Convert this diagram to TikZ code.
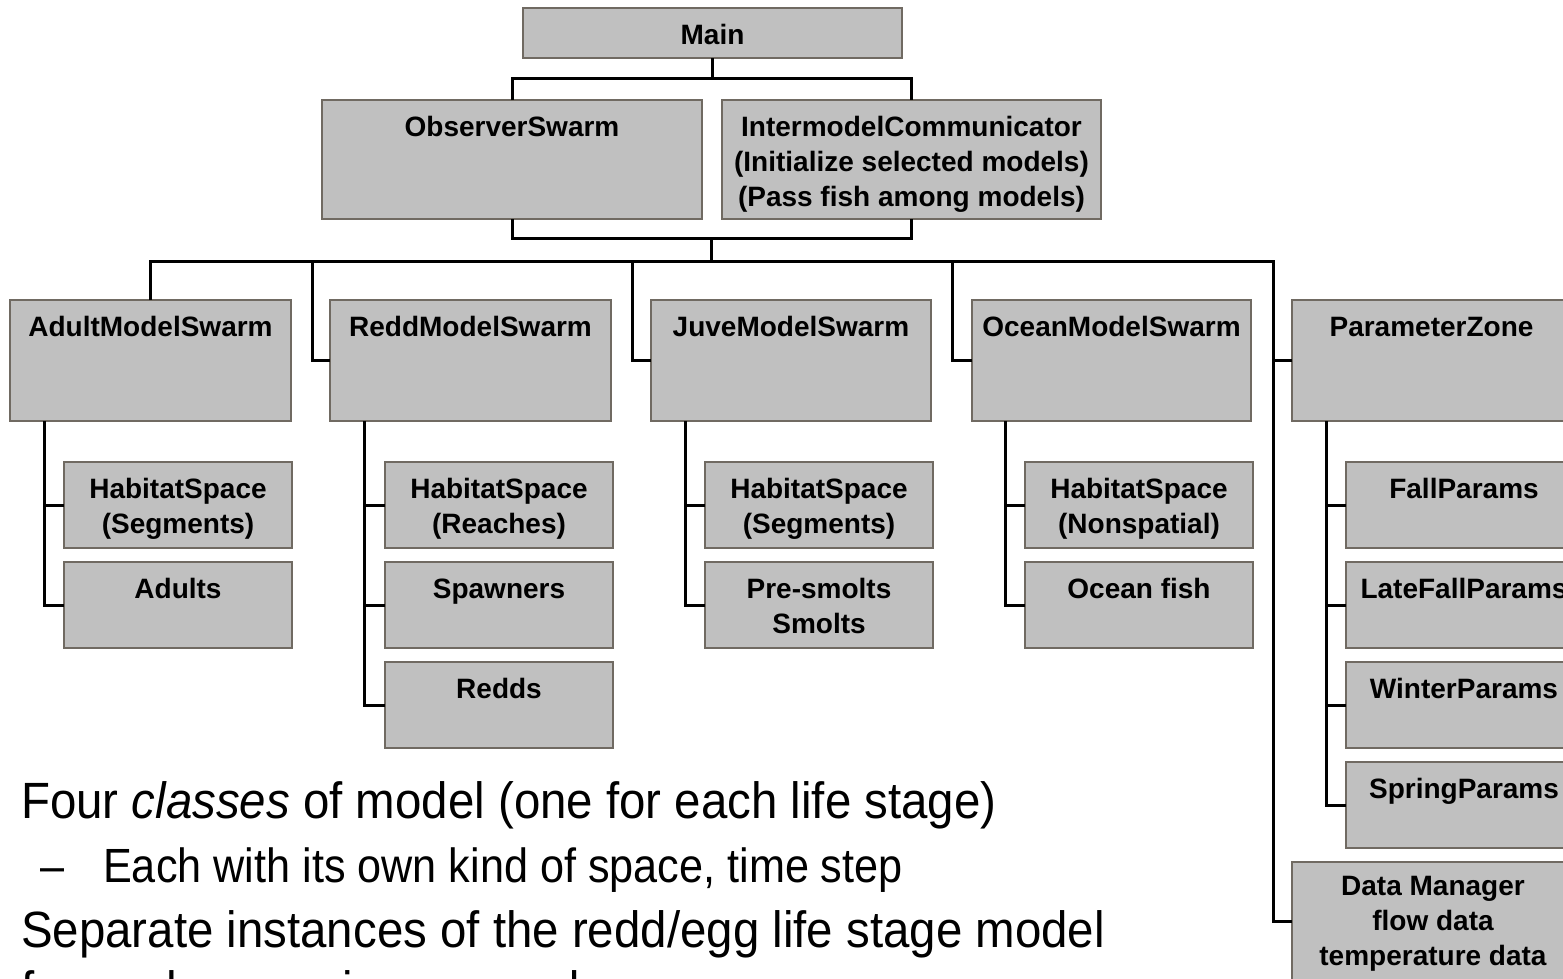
\documentclass[tikz,border=0pt]{standalone}
\usepackage{fontspec}
\setmainfont{Liberation Sans}
\newfontfamily\bigfont[FakeStretch=0.93]{Liberation Sans}
\newfontfamily\subfont[FakeStretch=0.9]{Liberation Sans}
\usetikzlibrary{calc}
\definecolor{boxfill}{RGB}{192,192,192}
\definecolor{boxline}{RGB}{112,106,98}
\newcommand\lbltop[3]{\parbox[t][#2pt][t]{#1pt}{\centering\rule{0pt}{36pt}#3\par}}
\newcommand\lblmid[3]{\parbox[c][#2pt][c]{#1pt}{\centering #3\par}}
\tikzset{
  box/.style={draw=boxline, fill=boxfill, line width=1.6pt, inner sep=0pt, outer sep=0pt,
              anchor=north west, font=\bfseries\fontsize{28}{35}\selectfont},
  conn/.style={line width=3pt, black, line join=miter},
  bigtxt/.style={anchor=base west, inner sep=0pt, font=\bigfont\fontsize{51}{60}\selectfont},
  subtxt/.style={anchor=base west, inner sep=0pt, font=\subfont\fontsize{48}{56}\selectfont},
}
\begin{document}
\begin{tikzpicture}[x=1pt, y=-1pt]
\clip (0,0) rectangle (1563,978);
\fill[white] (0,0) rectangle (1563,978);

% top level
\node[box] (main) at (523,8) {\lbltop{379}{50}{Main}};
\node[box] (obs) at (322,100) {\lbltop{380}{119}{ObserverSwarm}};
\node[box] (imc) at (722,100) {\lbltop{379}{119}{IntermodelCommunicator\\(Initialize selected models)\\(Pass fish among models)}};

% second level
\node[box] (adult) at (10,300) {\lbltop{281}{121}{AdultModelSwarm}};
\node[box] (redd) at (330,300) {\lbltop{281}{121}{ReddModelSwarm}};
\node[box] (juve) at (651,300) {\lbltop{280}{121}{JuveModelSwarm}};
\node[box] (ocean) at (972,300) {\lbltop{279}{121}{OceanModelSwarm}};
\node[box] (param) at (1292,300) {\lbltop{279}{121}{ParameterZone}};

% children
\node[box] (hs1) at (64,462) {\lbltop{228}{86}{HabitatSpace\\(Segments)}};
\node[box] (adults) at (64,562) {\lbltop{228}{86}{Adults}};
\node[box] (hs2) at (385,462) {\lbltop{228}{86}{HabitatSpace\\(Reaches)}};
\node[box] (spawn) at (385,562) {\lbltop{228}{86}{Spawners}};
\node[box] (redds) at (385,662) {\lbltop{228}{86}{Redds}};
\node[box] (hs3) at (705,462) {\lbltop{228}{86}{HabitatSpace\\(Segments)}};
\node[box] (smolt) at (705,562) {\lbltop{228}{86}{Pre-smolts\\Smolts}};
\node[box] (hs4) at (1025,462) {\lbltop{228}{86}{HabitatSpace\\(Nonspatial)}};
\node[box] (ofish) at (1025,562) {\lbltop{228}{86}{Ocean fish}};
\node[box] (fall) at (1346,462) {\lbltop{236}{86}{FallParams}};
\node[box] (late) at (1346,562) {\lbltop{236}{86}{LateFallParams}};
\node[box] (winter) at (1346,662) {\lbltop{236}{86}{WinterParams}};
\node[box] (spring) at (1346,762) {\lbltop{236}{86}{SpringParams}};
\node[box] (dm) at (1292,862) {\lblmid{282}{124}{Data Manager\\flow data\\temperature data}};

% connectors top
\coordinate (j1) at ($(main.south)+(0,20)$);
\draw[conn] (main.south) -- (j1);
\draw[conn] (obs.north) |- (j1) -| (imc.north);
\coordinate (hub) at ($(obs.south)!0.5!(imc.south)+(0,19)$);
\coordinate (bus) at ($(hub)+(0,23)$);
\draw[conn] (obs.south) |- (hub) -| (imc.south);
\draw[conn] (hub) -- (bus);

% bus and drops
\coordinate (dmin) at (1292,921);
\draw[conn] (adult.north) |- (bus) -| ($(dmin)+(-19,0)$) -- (dmin);
\draw[conn] (redd.west) -- ++(-18,0) |- (bus);
\draw[conn] (juve.west) -- ++(-19,0) |- (bus);
\draw[conn] (ocean.west) -- ++(-20,0) |- (bus);
\draw[conn] (param.west) -- ++(-19,0) |- (bus);

% child trunks
\draw[conn] ($(adult.south west)+(34,0)$) |- (adults.west);
\draw[conn] ($(adult.south west)+(34,0)$) |- (hs1.west);
\draw[conn] ($(redd.south west)+(34,0)$) |- (redds.west);
\draw[conn] ($(redd.south west)+(34,0)$) |- (spawn.west);
\draw[conn] ($(redd.south west)+(34,0)$) |- (hs2.west);
\draw[conn] ($(juve.south west)+(34,0)$) |- (smolt.west);
\draw[conn] ($(juve.south west)+(34,0)$) |- (hs3.west);
\draw[conn] ($(ocean.south west)+(33,0)$) |- (ofish.west);
\draw[conn] ($(ocean.south west)+(33,0)$) |- (hs4.west);
\draw[conn] ($(param.south west)+(34,0)$) |- (spring.west);
\draw[conn] ($(param.south west)+(34,0)$) |- (winter.west);
\draw[conn] ($(param.south west)+(34,0)$) |- (late.west);
\draw[conn] ($(param.south west)+(34,0)$) |- (fall.west);

% bullet text
\node[bigtxt] (t1) at (21,818) {Four \textit{classes} of model (one for each life stage)};
\node[subtxt] (t2) at (40,882) {\makebox[63pt][l]{–}Each with its own kind of space, time step};
\node[bigtxt] (t3) at (21,947) {Separate instances of the redd/egg life stage model};
\node[bigtxt] (t4) at (21,1007) {for each spawning run and year};
\end{tikzpicture}
\end{document}
